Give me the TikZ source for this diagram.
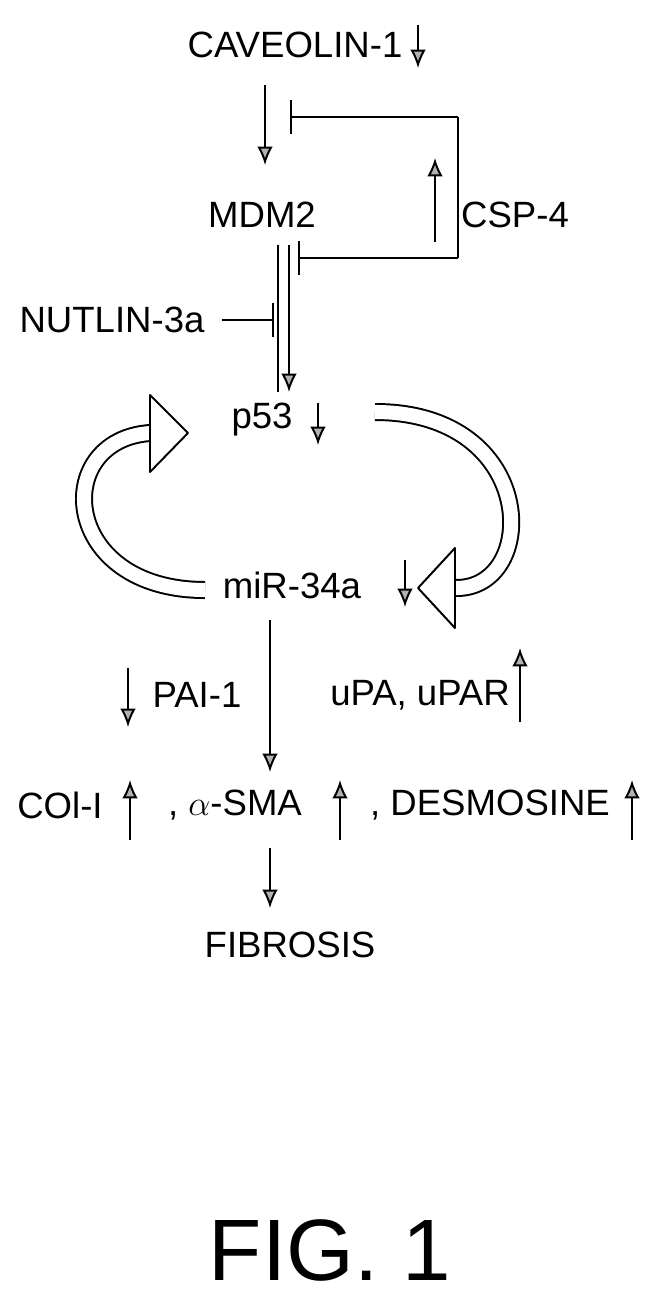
\documentclass[tikz,border=0pt]{standalone}
\usepackage{fontspec}
\setmainfont{Liberation Sans}
\usetikzlibrary{arrows.meta}
\tikzset{
  lbl/.style={font=\fontsize{26}{30}\selectfont, inner sep=0pt},
  act/.style={line width=1.4pt, -{Latex[length=13pt,width=11pt,fill=gray!60]}},
  inh/.style={line width=1.4pt, -{Bar[width=24pt]}},
  hollow/.style={draw, line width=1.4pt, double=white, double distance=10pt},
  headshape/.style={draw, line width=1.4pt, fill=white, line join=round},
}
\begin{document}
\begin{tikzpicture}[x=0.025cm,y=-0.025cm]
\useasboundingbox (0,0) rectangle (662,1303);
% main chain
\node[lbl] (cav) at (295,45) {CAVEOLIN-1};
\coordinate (cavdn0) at (418,25); \coordinate (cavdn1) at (418,68);
\draw[act] (cavdn0) -- (cavdn1);
\node[lbl] (mdm) at (262,215) {MDM2};
\node[lbl] (csp) at (515,215) {CSP-4};
\node[lbl] (nut) at (112,320) {NUTLIN-3a};
\node[lbl] (p53) at (262,420) {p53};
\node[lbl] (mir) at (292,585) {miR-34a};
\node[lbl] (pai) at (197,695) {PAI-1};
\node[lbl] (upa) at (420,695) {uPA, uPAR};
\node[lbl] (col) at (60,805) {COl-I};
\node[lbl] (sma) at (235,805) {, $\alpha$-SMA};
\node[lbl] (des) at (490,805) {, DESMOSINE};
\node[lbl] (fib) at (290,945) {FIBROSIS};
\node[font=\fontsize{62}{68}\selectfont, inner sep=0pt] (fig) at (330,1250) {FIG. 1};
% caveolin to mdm2
\coordinate (c1) at (265,85); \coordinate (c2) at (265,165);
\draw[act] (c1) -- (c2);
% CSP-4 loop
\coordinate (b1) at (458,117); \coordinate (b2) at (458,258);
\coordinate (t1) at (290,117); \coordinate (t2) at (298,258);
\draw[inh] (b1) -- (t1);
\draw[line width=1.4pt] (b1) -- (b2);
\draw[inh] (b2) -- (t2);
\coordinate (u0) at (435,242); \coordinate (u1) at (435,158);
\draw[act] (u0) -- (u1);
% mdm2 to p53
\coordinate (m1) at (278,245); \coordinate (m2) at (278,392);
\coordinate (m3) at (289,245); \coordinate (m4) at (289,392);
\draw[line width=1.4pt] (m1) -- (m2);
\draw[act] (m3) -- (m4);
\coordinate (n1) at (222,320);
\draw[inh] (n1) -- ++(52,0);
\draw[act] (318,403) -- (318,445);
% feedback loop
\draw[hollow] (205,590) .. controls (60,590) and (50,440) .. (150,433);
\draw[headshape] (150,395) -- (188,433) -- (150,472) -- cycle;
\draw[hollow] (375,412) .. controls (540,412) and (540,590) .. (455,588);
\draw[headshape] (455,548) -- (418,588) -- (455,628) -- cycle;
\draw[act] (405,560) -- (405,607);
% lower
\draw[act] (128,668) -- (128,727);
\draw[act] (270,620) -- (270,772);
\draw[act] (520,722) -- (520,648);
\draw[act] (130,840) -- (130,780);
\draw[act] (340,840) -- (340,780);
\draw[act] (632,840) -- (632,780);
\draw[act] (270,848) -- (270,908);
\end{tikzpicture}
\end{document}
